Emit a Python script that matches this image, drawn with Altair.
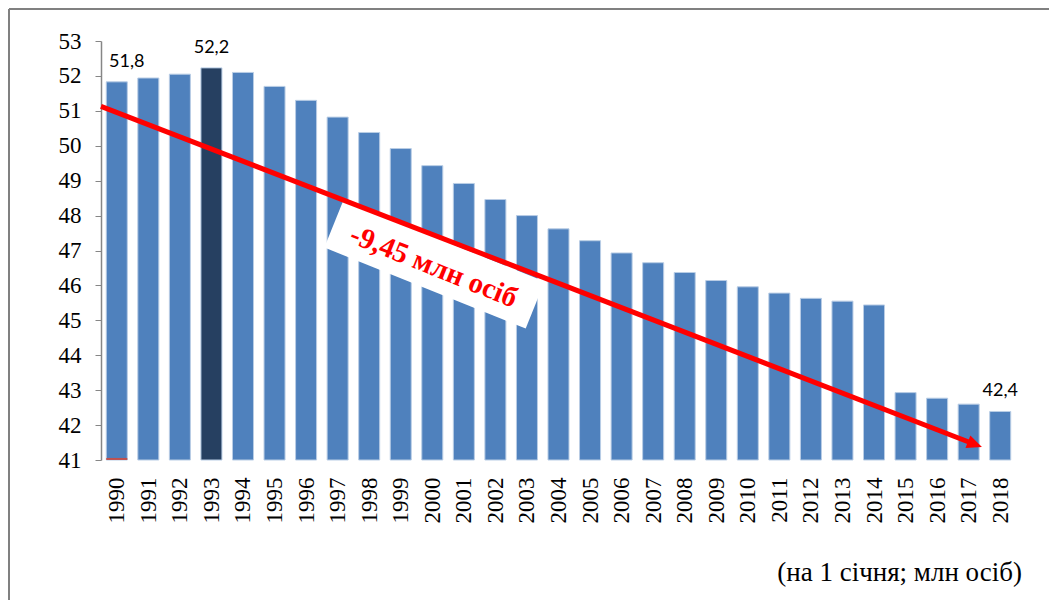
import altair as alt
import pandas as pd

# ---- data ----
years = list(range(1990, 2019))
population = [51.83, 51.94, 52.05, 52.23, 52.10, 51.70, 51.30, 50.82, 50.38, 49.92,
              49.43, 48.92, 48.46, 48.00, 47.62, 47.28, 46.93, 46.65, 46.37, 46.14,
              45.96, 45.78, 45.63, 45.55, 45.44, 42.93, 42.77, 42.60, 42.39]
highlight_year = 1993

label_years = [1990, 1993, 2018]
label_texts = ["51,8", "52,2", "42,4"]

trend_years = [1989.5, 2017.42]     # arrow tail / tip
trend_values = [51.13, 41.37]

note_year = [2000.07]
note_value = [46.60]
note_text = ["-9,45 млн осіб"]

y_ticks = list(range(41, 54))
caption = ["(на 1 січня; млн осіб)"]

# ---- tables ----
df = pd.DataFrame({"year": years, "population": population})
df["hl"] = df["year"] == highlight_year
labels = pd.DataFrame({"year": label_years, "text": label_texts})
lab_map = dict(zip(years, population))
labels["population"] = [lab_map[y] for y in label_years]

frac = 1 - 12 / 944.0
shaft = pd.DataFrame({
    "x": [trend_years[0]], "y": [trend_values[0]],
    "x2": [trend_years[0] + (trend_years[1] - trend_years[0]) * frac],
    "y2": [trend_values[0] + (trend_values[1] - trend_values[0]) * frac],
})
tip = pd.DataFrame({"x": [trend_years[1]], "y": [trend_values[1]]})
note = pd.DataFrame({"x": note_year, "y": note_value, "text": note_text})
cap = pd.DataFrame({"text": caption})

xscale = alt.Scale(domain=[1989.5, 2018.5], nice=False, zero=False)
yscale = alt.Scale(domain=[41, 53], nice=False, zero=False)
xaxis = alt.Axis(values=years, format="d", labelAngle=-90, domain=False, ticks=False,
                 labelPadding=17, grid=False, title=None, labelOverlap=False,
                 labelFont="Liberation Serif", labelFontSize=23, labelColor="black")
yaxis = alt.Axis(values=y_ticks, format="d", grid=False, title=None,
                 labelFont="Liberation Serif", labelFontSize=23, labelColor="black",
                 domainColor="#868686", tickColor="#868686", tickSize=6, labelPadding=14,
                 domainWidth=1.5)

W, H = 915, 419

one = pd.DataFrame({"a": [0]})
frame_top = alt.Chart(one).mark_rule(color="#808080", strokeWidth=2).encode(
    x=alt.value(-92), x2=alt.value(W + 100), y=alt.value(-32))
frame_left = alt.Chart(one).mark_rule(color="#808080", strokeWidth=2).encode(
    x=alt.value(-92), y=alt.value(-32), y2=alt.value(H + 200))

bars = alt.Chart(df).transform_calculate(
    x0="datum.year - 0.333", x1="datum.year + 0.333"
).mark_bar(stroke="#B9CDE5", strokeWidth=1).encode(
    x=alt.X("x0:Q", scale=xscale, axis=xaxis),
    x2="x1:Q",
    y=alt.Y("population:Q", scale=yscale, axis=yaxis),
    y2=alt.datum(41),
    color=alt.condition("datum.hl", alt.value("#264061"), alt.value("#4F81BD")),
)

base_mark = alt.Chart(df).transform_filter("datum.year == 1990").transform_calculate(
    x0="datum.year - 0.333", x1="datum.year + 0.333", y0="41.03"
).mark_rule(color="#C0504D", strokeWidth=2).encode(
    x=alt.X("x0:Q", scale=xscale, axis=xaxis), x2="x1:Q",
    y=alt.Y("y0:Q", scale=yscale, axis=yaxis),
)

box = alt.Chart(note).mark_point(
    shape="M-1,-0.234 L1,-0.234 L1,0.234 L-1,0.234 Z", size=217 * 217,
    filled=True, fill="white", opacity=1, strokeWidth=0, angle=21.9
).encode(x=alt.X("x:Q", scale=xscale, axis=xaxis), y=alt.Y("y:Q", scale=yscale, axis=yaxis))

note_txt = alt.Chart(note).mark_text(
    font="Liberation Serif", fontWeight="bold", fontSize=29, color="#FF0000",
    angle=21.9, align="center", baseline="middle", dy=2
).encode(x=alt.X("x:Q", scale=xscale, axis=xaxis), y=alt.Y("y:Q", scale=yscale, axis=yaxis),
         text="text:N")

arrow = alt.Chart(shaft).mark_rule(color="#FF0000", strokeWidth=5).encode(
    x=alt.X("x:Q", scale=xscale, axis=xaxis), x2="x2:Q",
    y=alt.Y("y:Q", scale=yscale, axis=yaxis), y2="y2:Q",
)

head = alt.Chart(tip).mark_point(
    shape="M0,0 L-2,-0.9 L-2,0.9 Z", size=225, filled=True, fill="#FF0000",
    opacity=1, strokeWidth=0, angle=21.1
).encode(x=alt.X("x:Q", scale=xscale, axis=xaxis), y=alt.Y("y:Q", scale=yscale, axis=yaxis))

lab_first = alt.Chart(labels).transform_filter("datum.year == 1990").mark_text(
    font="Lato", fontSize=18, color="black", baseline="middle", dy=-20, dx=10
).encode(x=alt.X("year:Q", scale=xscale, axis=xaxis),
         y=alt.Y("population:Q", scale=yscale, axis=yaxis), text="text:N")
lab_rest = alt.Chart(labels).transform_filter("datum.year != 1990").mark_text(
    font="Lato", fontSize=18, color="black", baseline="middle", dy=-20
).encode(x=alt.X("year:Q", scale=xscale, axis=xaxis),
         y=alt.Y("population:Q", scale=yscale, axis=yaxis), text="text:N")

caption_txt = alt.Chart(cap).mark_text(
    font="Liberation Serif", fontSize=27, color="black", align="right", baseline="middle"
).encode(x=alt.value(921), y=alt.value(532), text="text:N")

chart = alt.layer(
    frame_top, frame_left, bars, base_mark, box, note_txt, arrow, head,
    lab_first, lab_rest, caption_txt
).properties(
    width=W, height=H,
    autosize=alt.AutoSizeParams(type="none"),
    padding={"left": 93, "top": 33, "right": 33, "bottom": 140},
).configure_view(stroke=None).configure_axisX(
    labelFont="Liberation Serif", labelFontSize=23, labelColor="black",
    domain=False, ticks=False, labelPadding=17, grid=False,
).configure_axisY(
    labelFont="Liberation Serif", labelFontSize=23, labelColor="black",
    domainColor="#868686", tickColor="#868686", tickSize=6, labelPadding=14,
    domainWidth=1.5, grid=False,
)

chart.save("out.html", embed_options={"renderer": "svg", "actions": False})
